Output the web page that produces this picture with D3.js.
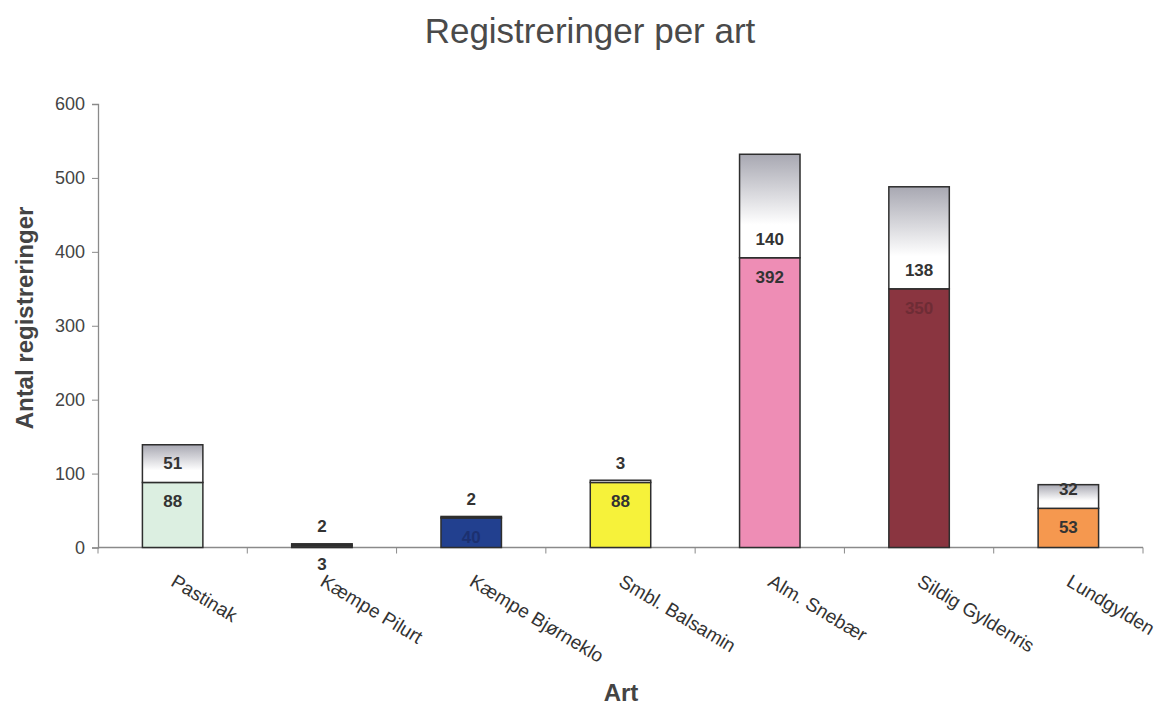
<!DOCTYPE html>
<html>
<head>
<meta charset="utf-8">
<script src="https://cdn.jsdelivr.net/npm/d3@7"></script>
<style>
  html, body { margin: 0; padding: 0; background: #fff; }
  svg { display: block; font-family: "Liberation Sans", Arial, sans-serif; }
</style>
</head>
<body>
<svg id="chart" width="1163" height="706"></svg>
<script>
// Species registered, lower (registered) and upper (additional) counts
const categories = ["Pastinak", "Kæmpe Pilurt", "Kæmpe Bjørneklo", "Smbl. Balsamin", "Alm. Snebær", "Sildig Gyldenris", "Lundgylden"];
const lowerValues = [88, 3, 40, 88, 392, 350, 53];
const upperValues = [51, 2, 2, 3, 140, 138, 32];
const yTicks = [0, 100, 200, 300, 400, 500, 600];

// Fill colours of the lower segment per species
const lowerColors = ["#dcefe1", "#3a3a3a", "#22408f", "#f6f23a", "#ee8db5", "#8a3540", "#f5984f"];
const lowerLabelColors = ["#333", "#333", "#1c3070", "#333", "#333", "#6e2c35", "#333"];

const svg = d3.select("#chart");

const x = d3.scaleBand().domain(categories).range([98, 1143]).padding(0);
const y = d3.scaleLinear().domain([0, 600]).range([547.5, 104]);
const barW = x.bandwidth() * 0.405;
const barX = c => x(c) + (x.bandwidth() - barW) / 2;

// gradient for the upper segment: grey on top, fading to white
const defs = svg.append("defs");
const grad = defs.append("linearGradient").attr("id", "upperFill")
  .attr("x1", 0).attr("y1", 0).attr("x2", 0).attr("y2", 1);
grad.append("stop").attr("offset", "0%").attr("stop-color", "#a8a8b2");
grad.append("stop").attr("offset", "68%").attr("stop-color", "#ffffff");
grad.append("stop").attr("offset", "100%").attr("stop-color", "#ffffff");

// title
svg.append("text")
  .attr("x", 590).attr("y", 43)
  .attr("text-anchor", "middle")
  .attr("font-size", 35)
  .attr("fill", "#4a4a4a")
  .text("Registreringer per art");

// y axis
const yAxis = d3.axisLeft(y).tickValues(yTicks).tickSize(6).tickPadding(7);
const gy = svg.append("g").attr("transform", "translate(98,0)").call(yAxis);
gy.select(".domain").attr("stroke", "#8a8a8a").attr("stroke-width", 1.3);
gy.selectAll(".tick line").attr("stroke", "#8a8a8a");
gy.selectAll(".tick text").attr("font-size", 18).attr("fill", "#444")
  .attr("font-family", "Liberation Sans, Arial, sans-serif");

// y axis title
svg.append("text")
  .attr("transform", "translate(33,318) rotate(-90)")
  .attr("text-anchor", "middle")
  .attr("font-size", 24).attr("font-weight", "bold")
  .attr("fill", "#444")
  .text("Antal registreringer");

// x axis line and boundary ticks
const gx = svg.append("g");
gx.append("line")
  .attr("x1", x.range()[0]).attr("x2", x.range()[1])
  .attr("y1", y(0)).attr("y2", y(0))
  .attr("stroke", "#8a8a8a").attr("stroke-width", 1.3);
const bounds = categories.map(c => x(c) + x.bandwidth()).concat([x.range()[0]]);
gx.selectAll("line.tk").data(bounds).join("line").attr("class", "tk")
  .attr("x1", d => d).attr("x2", d => d)
  .attr("y1", y(0)).attr("y2", y(0) + 6)
  .attr("stroke", "#8a8a8a");

// category labels, rotated
gx.selectAll("text.cat").data(categories).join("text").attr("class", "cat")
  .attr("transform", c => `translate(${x(c) + x.bandwidth() / 2 - 3},585) rotate(31)`)
  .attr("text-anchor", "start")
  .attr("font-size", 19).attr("fill", "#333")
  .text(c => c);

// x axis title
svg.append("text")
  .attr("x", 621).attr("y", 701)
  .attr("text-anchor", "middle")
  .attr("font-size", 24).attr("font-weight", "bold")
  .attr("fill", "#444")
  .text("Art");

// bars
const rows = categories.map((c, i) => ({ c, lo: lowerValues[i], up: upperValues[i], col: lowerColors[i], lc: lowerLabelColors[i] }));
const bars = svg.append("g");

bars.selectAll("rect.lo").data(rows).join("rect").attr("class", "lo")
  .attr("x", d => barX(d.c)).attr("width", barW)
  .attr("y", d => y(d.lo)).attr("height", d => y(0) - y(d.lo))
  .attr("fill", d => d.col)
  .attr("stroke", "#2e2e2e").attr("stroke-width", 1.5);

bars.selectAll("rect.up").data(rows).join("rect").attr("class", "up")
  .attr("x", d => barX(d.c)).attr("width", barW)
  .attr("y", d => y(d.lo + d.up)).attr("height", d => y(d.lo) - y(d.lo + d.up))
  .attr("fill", "url(#upperFill)")
  .attr("stroke", "#2e2e2e").attr("stroke-width", 1.5);

// value labels
const labels = svg.append("g")
  .attr("font-size", 17).attr("font-weight", "bold").attr("text-anchor", "middle");

labels.selectAll("text.up").data(rows).join("text").attr("class", "up")
  .attr("x", d => x(d.c) + x.bandwidth() / 2)
  .attr("y", d => y(d.lo) - 19).attr("dy", "0.35em")
  .attr("fill", "#333")
  .text(d => d.up);

labels.selectAll("text.lo").data(rows).join("text").attr("class", "lo")
  .attr("x", d => x(d.c) + x.bandwidth() / 2)
  .attr("y", d => y(d.lo) + 19).attr("dy", "0.35em")
  .attr("fill", d => d.lc)
  .text(d => d.lo);
</script>
</body>
</html>
